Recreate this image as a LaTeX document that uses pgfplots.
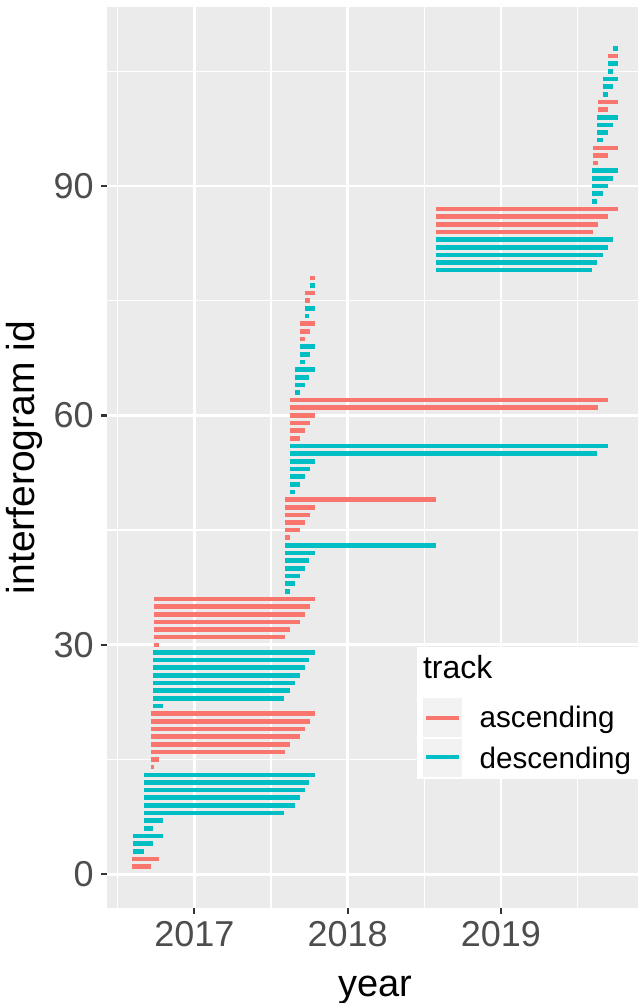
\documentclass[border=0pt]{standalone}
\usepackage{fontspec}
\setmainfont{Liberation Sans}
\usepackage{pgfplots}
\usepackage{pgfplotstable}
\pgfplotsset{compat=1.18}

\definecolor{ascol}{HTML}{F8766D}
\definecolor{descol}{HTML}{00BFC4}
\definecolor{panelbg}{HTML}{EBEBEB}
\definecolor{keybg}{HTML}{F2F2F2}
\definecolor{ticktext}{HTML}{4D4D4D}
\definecolor{tickcol}{HTML}{333333}

% interferogram id, start, end (decimal year)
\pgfplotstableread{
id x0 x1
1 2016.591 2016.717
2 2016.591 2016.769
14 2016.720 2016.736
15 2016.720 2016.769
16 2016.720 2017.594
17 2016.720 2017.626
18 2016.720 2017.689
19 2016.720 2017.723
20 2016.720 2017.755
21 2016.720 2017.789
30 2016.736 2016.769
31 2016.736 2017.594
32 2016.736 2017.626
33 2016.736 2017.689
34 2016.736 2017.723
35 2016.736 2017.755
36 2016.736 2017.789
44 2017.594 2017.626
45 2017.594 2017.689
46 2017.594 2017.723
47 2017.594 2017.755
48 2017.594 2017.789
49 2017.594 2018.579
57 2017.626 2017.689
58 2017.626 2017.723
59 2017.626 2017.755
60 2017.626 2017.789
61 2017.626 2019.633
62 2017.626 2019.699
70 2017.689 2017.723
71 2017.689 2017.755
72 2017.689 2017.789
75 2017.723 2017.755
76 2017.723 2017.789
78 2017.755 2017.789
84 2018.579 2019.600
85 2018.579 2019.633
86 2018.579 2019.699
87 2018.579 2019.766
93 2019.600 2019.633
94 2019.600 2019.699
95 2019.600 2019.766
100 2019.633 2019.699
101 2019.633 2019.766
107 2019.699 2019.766
}\asc

\pgfplotstableread{
id x0 x1
3 2016.602 2016.669
4 2016.602 2016.733
5 2016.602 2016.798
6 2016.669 2016.733
7 2016.669 2016.798
8 2016.669 2017.587
9 2016.669 2017.656
10 2016.669 2017.689
11 2016.669 2017.719
12 2016.669 2017.751
13 2016.669 2017.786
22 2016.733 2016.798
23 2016.733 2017.587
24 2016.733 2017.622
25 2016.733 2017.656
26 2016.733 2017.689
27 2016.733 2017.719
28 2016.733 2017.751
29 2016.733 2017.786
37 2017.589 2017.622
38 2017.589 2017.656
39 2017.589 2017.689
40 2017.589 2017.719
41 2017.589 2017.751
42 2017.589 2017.786
43 2017.589 2018.575
50 2017.622 2017.656
51 2017.622 2017.689
52 2017.622 2017.719
53 2017.622 2017.751
54 2017.622 2017.786
55 2017.622 2019.629
56 2017.622 2019.696
63 2017.656 2017.689
64 2017.656 2017.719
65 2017.656 2017.751
66 2017.656 2017.786
67 2017.689 2017.719
68 2017.689 2017.751
69 2017.689 2017.786
73 2017.719 2017.751
74 2017.719 2017.786
77 2017.751 2017.786
79 2018.577 2019.595
80 2018.577 2019.629
81 2018.577 2019.663
82 2018.577 2019.696
83 2018.577 2019.731
88 2019.595 2019.629
89 2019.595 2019.663
90 2019.595 2019.696
91 2019.595 2019.731
92 2019.595 2019.763
96 2019.629 2019.663
97 2019.629 2019.696
98 2019.629 2019.731
99 2019.629 2019.763
102 2019.663 2019.696
103 2019.663 2019.731
104 2019.663 2019.763
105 2019.696 2019.731
106 2019.696 2019.763
108 2019.731 2019.763
}\desc

\begin{document}
\begin{tikzpicture}
\begin{axis}[
    at={(0,0)}, anchor=south west,
    scale only axis,
    width=267.75pt, height=450pt,
    xmin=2016.432, xmax=2019.925,
    ymin=-4.35, ymax=113.35,
    xtick={2017,2018,2019},
    ytick={0,30,60,90},
    minor xtick={2016.5,2017.5,2018.5,2019.5},
    minor ytick={15,45,75,105},
    grid=both,
    major grid style={white, line width=1.35pt},
    minor grid style={white, line width=0.67pt},
    axis background/.style={fill=panelbg},
    axis line style={draw=none},
    tick pos=left,
    tick align=outside,
    major tick length=3.25pt,
    minor tick length=0pt,
    tick style={draw=tickcol, line width=1.1pt},
    /pgf/number format/1000 sep={},
    /pgf/number format/assume math mode=true,
    tick label style={font=\fontsize{18}{20}\selectfont, text=ticktext},
    xlabel={year},
    ylabel={interferogram id},
    every axis x label/.style={at={(axis description cs:0.5,-0.0994)}, anchor=base,
        font=\fontsize{19}{21}\selectfont},
    every axis y label/.style={at={(axis description cs:-0.1201,0.5)}, rotate=90, anchor=south,
        inner sep=0pt, font=\fontsize{19.5}{21}\selectfont},
]
\addplot[draw=ascol, line width=2.3pt, no markers,
    quiver={u={\thisrow{x1}-\thisrow{x0}}, v=0}] table[x=x0, y=id] {\asc};
\addplot[draw=descol, line width=2.3pt, no markers,
    quiver={u={\thisrow{x1}-\thisrow{x0}}, v=0}] table[x=x0, y=id] {\desc};
\end{axis}

% legend (ggplot style, inside the panel)
\fill[white] (154.7pt,64.5pt) rectangle (270pt,130.5pt);
\node[anchor=base west, inner sep=0pt, font=\fontsize{16}{18}\selectfont] at (157.7pt,114.6pt) {track};
\fill[keybg] (158pt,85.4pt) rectangle (177.2pt,104.6pt);
\fill[keybg] (158pt,65.4pt) rectangle (177.2pt,84.25pt);
\draw[ascol, line width=2pt] (159.35pt,94.75pt) -- (175.7pt,94.75pt);
\draw[descol, line width=2pt] (159.35pt,75.1pt) -- (175.7pt,75.1pt);
\node[anchor=base west, inner sep=0pt, font=\fontsize{14.8}{17}\selectfont] at (186pt,90.1pt) {ascending};
\node[anchor=base west, inner sep=0pt, font=\fontsize{14.8}{17}\selectfont] at (186pt,69.6pt) {descending};

\pgfresetboundingbox
\path[use as bounding box] (-53.65pt,-47.75pt) rectangle (265.35pt,453.75pt);
\end{tikzpicture}
\end{document}
